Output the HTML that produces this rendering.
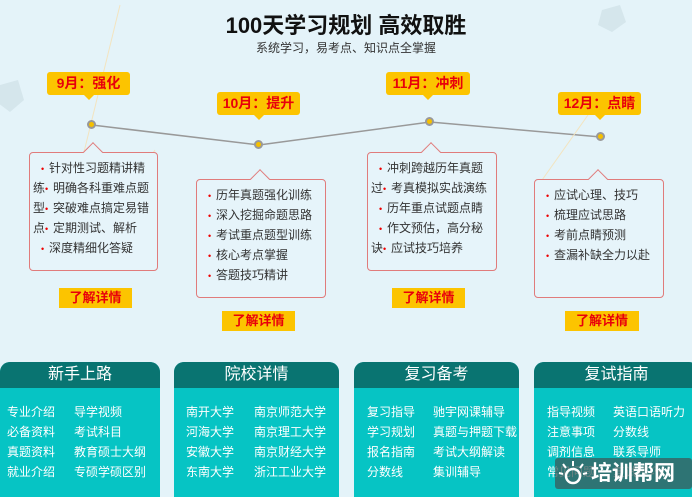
<!DOCTYPE html>
<html><head><meta charset="utf-8"><style>
*{margin:0;padding:0;box-sizing:border-box}
body{width:692px;height:491px;overflow:hidden;background:#e4f3f9;font-family:"Liberation Sans","Noto Sans CJK SC",sans-serif;position:relative}
.a{position:absolute}
.title{left:0;width:692px;top:8px;text-align:center;font-size:22px;font-weight:bold;color:#111}
.sub{left:0;width:692px;top:39px;text-align:center;font-size:12px;color:#333}
.tag{background:#fcc400;color:#e8000b;font-weight:bold;font-size:14px;text-align:center;line-height:23px;height:23px;border-radius:3px}
.tag:after{content:"";position:absolute;left:50%;margin-left:-5px;bottom:-5px;border-left:5px solid transparent;border-right:5px solid transparent;border-top:5px solid #fcc400}
.dot{width:9px;height:9px;border-radius:50%;background:#f5c000;border:2px solid #999}
.card{border:1px solid #e07b7b;border-radius:4px;background:#e6f4fa;font-size:12px;color:#333;line-height:19px;padding-top:6px}
.card .car{position:absolute;top:-8px;width:14px;height:14px;background:#e6f4fa;border-left:1px solid #e07b7b;border-top:1px solid #e07b7b;transform:rotate(45deg)}
.card p{white-space:nowrap;position:relative}
.b{color:#e00;font-size:9px;display:inline-block;width:8px}
.btn{background:#fcc400;color:#e8000b;font-weight:bold;font-size:13px;text-align:center;line-height:20px;height:20px}
.pan{top:362px;height:135px;background:#06c4c4;border-radius:10px 10px 0 0;overflow:hidden}
.pan h3{background:#097471;height:26px;line-height:26px;text-align:center;color:#fff;font-weight:normal;font-size:16px}
.pan span{position:absolute;color:#fff;font-size:12px;white-space:nowrap;line-height:14px}
</style></head><body>
<div class="a title">100天学习规划 高效取胜</div>
<div class="a sub">系统学习，易考点、知识点全掌握</div>

<svg class="a" style="left:0;top:0" width="692" height="491">
<polyline points="92,125 259,145 430,122 601,137" fill="none" stroke="#999" stroke-width="1.5"/>
<line x1="60" y1="250" x2="120" y2="5" stroke="#f3e4c0" stroke-width="1"/>
<line x1="80" y1="260" x2="155" y2="150" stroke="#f3e4c0" stroke-width="1"/>
<line x1="535" y1="190" x2="588" y2="115" stroke="#f3e4c0" stroke-width="1"/>
<polygon points="0,85 18,80 24,100 10,112 -6,100" fill="#d5e6ec"/>
<polygon points="602,10 620,5 626,22 612,32 598,25" fill="#d5e6ec"/>
</svg>

<div class="a tag" style="left:47px;top:72px;width:83px">9月：强化</div>
<div class="a tag" style="left:217px;top:92px;width:83px">10月：提升</div>
<div class="a tag" style="left:386px;top:72px;width:84px">11月：冲刺</div>
<div class="a tag" style="left:558px;top:92px;width:83px">12月：点睛</div>

<div class="a dot" style="left:87px;top:120px"></div>
<div class="a dot" style="left:254px;top:140px"></div>
<div class="a dot" style="left:425px;top:117px"></div>
<div class="a dot" style="left:596px;top:132px"></div>

<div class="a card" style="left:29px;top:152px;width:129px;height:119px"><div class="car" style="left:56px"></div>
<p style="left:11px"><span class="b">•</span>针对性习题精讲精</p>
<p style="left:3px">练<span class="b">•</span>明确各科重难点题</p>
<p style="left:3px">型<span class="b">•</span>突破难点搞定易错</p>
<p style="left:3px">点<span class="b">•</span>定期测试、解析</p>
<p style="left:11px"><span class="b">•</span>深度精细化答疑</p></div>

<div class="a card" style="left:196px;top:179px;width:130px;height:119px"><div class="car" style="left:56px"></div>
<p style="left:11px"><span class="b">•</span>历年真题强化训练</p>
<p style="left:11px"><span class="b">•</span>深入挖掘命题思路</p>
<p style="left:11px"><span class="b">•</span>考试重点题型训练</p>
<p style="left:11px"><span class="b">•</span>核心考点掌握</p>
<p style="left:11px"><span class="b">•</span>答题技巧精讲</p></div>

<div class="a card" style="left:367px;top:152px;width:130px;height:119px"><div class="car" style="left:56px"></div>
<p style="left:11px"><span class="b">•</span>冲刺跨越历年真题</p>
<p style="left:3px">过<span class="b">•</span>考真模拟实战演练</p>
<p style="left:11px"><span class="b">•</span>历年重点试题点睛</p>
<p style="left:11px"><span class="b">•</span>作文预估，高分秘</p>
<p style="left:3px">诀<span class="b">•</span>应试技巧培养</p></div>

<div class="a card" style="left:534px;top:179px;width:130px;height:119px"><div class="car" style="left:56px"></div>
<p style="left:11px"><span class="b">•</span>应试心理、技巧</p>
<p style="left:11px"><span class="b">•</span>梳理应试思路</p>
<p style="left:11px"><span class="b">•</span>考前点睛预测</p>
<p style="left:11px"><span class="b">•</span>查漏补缺全力以赴</p></div>

<div class="a btn" style="left:59px;top:288px;width:73px">了解详情</div>
<div class="a btn" style="left:222px;top:311px;width:73px">了解详情</div>
<div class="a btn" style="left:392px;top:288px;width:73px">了解详情</div>
<div class="a btn" style="left:565px;top:311px;width:74px">了解详情</div>

<div class="a pan" style="left:0;width:160px"><h3>新手上路</h3>
<span style="left:7px;top:43px">专业介绍</span><span style="left:74px;top:43px">导学视频</span>
<span style="left:7px;top:63px">必备资料</span><span style="left:74px;top:63px">考试科目</span>
<span style="left:7px;top:83px">真题资料</span><span style="left:74px;top:83px">教育硕士大纲</span>
<span style="left:7px;top:103px">就业介绍</span><span style="left:74px;top:103px">专硕学硕区别</span></div>

<div class="a pan" style="left:174px;width:165px"><h3>院校详情</h3>
<span style="left:12px;top:43px">南开大学</span><span style="left:80px;top:43px">南京师范大学</span>
<span style="left:12px;top:63px">河海大学</span><span style="left:80px;top:63px">南京理工大学</span>
<span style="left:12px;top:83px">安徽大学</span><span style="left:80px;top:83px">南京财经大学</span>
<span style="left:12px;top:103px">东南大学</span><span style="left:80px;top:103px">浙江工业大学</span></div>

<div class="a pan" style="left:354px;width:165px"><h3>复习备考</h3>
<span style="left:13px;top:43px">复习指导</span><span style="left:79px;top:43px">驰宇网课辅导</span>
<span style="left:13px;top:63px">学习规划</span><span style="left:79px;top:63px">真题与押题下载</span>
<span style="left:13px;top:83px">报名指南</span><span style="left:79px;top:83px">考试大纲解读</span>
<span style="left:13px;top:103px">分数线</span><span style="left:79px;top:103px">集训辅导</span></div>

<div class="a pan" style="left:534px;width:165px"><h3>复试指南</h3>
<span style="left:13px;top:43px">指导视频</span><span style="left:79px;top:43px">英语口语听力</span>
<span style="left:13px;top:63px">注意事项</span><span style="left:79px;top:63px">分数线</span>
<span style="left:13px;top:83px">调剂信息</span><span style="left:79px;top:83px">联系导师</span>
<span style="left:13px;top:103px">常见问题</span><span style="left:79px;top:103px">复试技巧</span></div>

<div class="a" style="left:555px;top:458px;width:137px;height:31px;background:rgba(60,90,90,0.75);border-radius:3px"></div>
<svg class="a" style="left:558px;top:459px" width="30" height="30"><circle cx="15" cy="17" r="7" fill="none" stroke="#fff" stroke-width="2.5"/><g stroke="#fff" stroke-width="2"><line x1="15" y1="2" x2="15" y2="7"/><line x1="5" y1="5" x2="8" y2="9"/><line x1="25" y1="5" x2="22" y2="9"/><line x1="1" y1="14" x2="5" y2="15"/><line x1="29" y1="14" x2="25" y2="15"/></g></svg>
<div class="a" style="left:591px;top:459px;font-size:21px;color:#fff;line-height:30px;font-weight:bold">培训帮网</div>
</body></html>
